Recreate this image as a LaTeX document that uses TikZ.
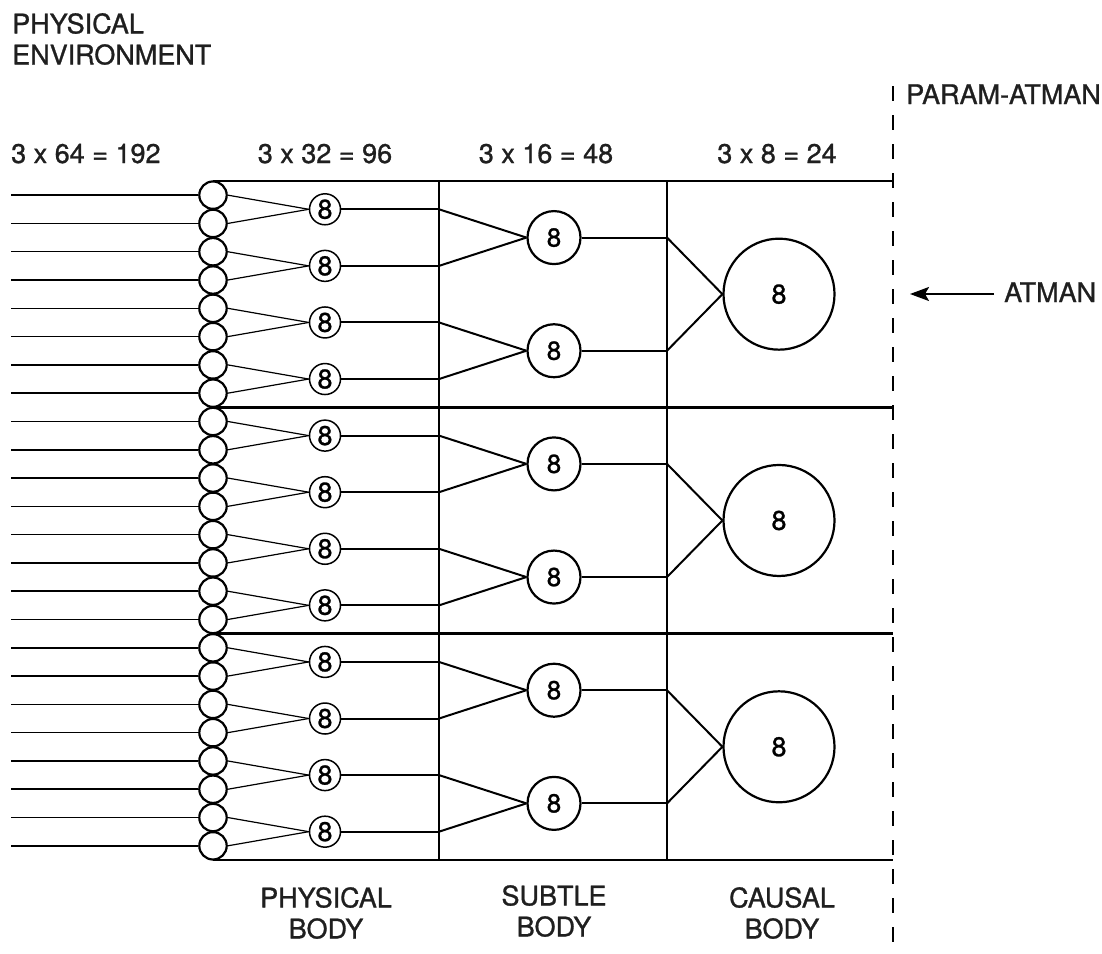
\documentclass[tikz,border=0pt]{standalone}
\usepackage{fontspec}
\setmainfont{TeX Gyre Heros}[FakeBold=1.0]
\usetikzlibrary{arrows.meta,calc}
\begin{document}
\begin{tikzpicture}[x=1pt,y=-1pt,
  lbl/.style={font=\fontsize{27}{31}\selectfont, inner sep=0pt, text=black!88},
  sc/.style={circle, draw, line width=2.2pt, minimum size=27.4pt, inner sep=0pt},
  mc/.style={circle, draw, line width=1.5pt, minimum size=31pt, inner sep=0pt, font=\fontsize{27}{27}\selectfont},
  subc/.style={circle, draw, line width=2.2pt, minimum size=53pt, inner sep=0pt, font=\fontsize{26}{26}\selectfont},
  cc/.style={circle, draw, line width=2.2pt, minimum size=111pt, inner sep=0pt, font=\fontsize{27}{27}\selectfont},
  inline/.style={line width=1.5pt},
  thinline/.style={line width=1.2pt},
  midline/.style={line width=2pt},
  frame/.style={line width=2.6pt},
  dashline/.style={line width=2.4pt, dash pattern=on 15pt off 14pt},
  arr/.style={line width=2.2pt, -{Stealth[length=19pt,width=14pt,inset=4pt]}}
]
\useasboundingbox (0,0) rectangle (1102,953);
\def\u{28.29}
% frame
\foreach \g in {0,1,2,3}{
  \coordinate (hL\g) at (213,{181+8*\u*\g});
  \coordinate (hR\g) at (893,{181+8*\u*\g});
  \draw[frame] (hL\g) -- (hR\g);
}
\coordinate (v1t) at (439,181); \coordinate (v1b) at (439,{181+24*\u});
\coordinate (v2t) at (667,181); \coordinate (v2b) at (667,{181+24*\u});
\draw[frame] (v1t) -- (v1b);
\draw[frame] (v2t) -- (v2b);
\coordinate (dt) at (893,86); \coordinate (db) at (893,947);
\draw[dashline] (dt) -- (db);
% small circles and inputs
\foreach \i in {0,...,23}{
  \node[sc, fill=white] (s\i) at (213,{181+\u*(\i+0.5)}) {};
  \coordinate (in\i) at (11,{181+\u*(\i+0.5)});
  \draw[inline] (in\i) -- (s\i);
}
% medium circles
\foreach \m in {0,...,11}{
  \pgfmathtruncatemacro{\a}{2*\m}
  \pgfmathtruncatemacro{\b}{2*\m+1}
  \node[mc] (m\m) at (325,{181+\u*(2*\m+1)}) {8};
  \draw[thinline] (s\a.east) -- (m\m.west);
  \draw[thinline] (s\b.east) -- (m\m.west);
  \coordinate (j\m) at (439,{181+\u*(2*\m+1)});
  \draw[midline] (m\m) -- (j\m);
}
% subtle circles
\foreach \n in {0,...,5}{
  \pgfmathtruncatemacro{\a}{2*\n}
  \pgfmathtruncatemacro{\b}{2*\n+1}
  \node[subc] (t\n) at (554,{181+\u*(4*\n+2)}) {8};
  \draw[midline] (j\a) -- (t\n.west);
  \draw[midline] (j\b) -- (t\n.west);
  \coordinate (k\n) at (667,{181+\u*(4*\n+2)});
  \draw[midline] (t\n) -- (k\n);
}
% causal circles
\foreach \c in {0,1,2}{
  \pgfmathtruncatemacro{\a}{2*\c}
  \pgfmathtruncatemacro{\b}{2*\c+1}
  \node[cc] (c\c) at (779,{181+\u*(8*\c+4)}) {8};
  \draw[midline] (k\a) -- (c\c.west);
  \draw[midline] (k\b) -- (c\c.west);
}
% labels
\node[lbl, anchor=north west, align=left] (env) at (12,13) {PHYSICAL\\ENVIRONMENT};
\node[lbl, anchor=base west] (n1) at (11,163) {3 x 64 = 192};
\node[lbl, anchor=base] (n2) at (325,163) {3 x 32 = 96};
\node[lbl, anchor=base] (n3) at (546,163) {3 x 16 = 48};
\node[lbl, anchor=base] (n4) at (777,163) {3 x 8 = 24};
\node[lbl, anchor=base west] (pa) at (906,104) {PARAM-ATMAN};
\node[lbl, anchor=base west] (atman) at (1004,302) {ATMAN};
\coordinate (atip) at (910,294);
\draw[arr] ([xshift=-10pt]atman.west |- atip) -- (atip);
\node[lbl, anchor=north, align=center] (pb) at (326,887) {PHYSICAL\\BODY};
\node[lbl, anchor=north, align=center] (sb) at (554,885) {SUBTLE\\BODY};
\node[lbl, anchor=north, align=center] (cb) at (782,887) {CAUSAL\\BODY};
\end{tikzpicture}
\end{document}
